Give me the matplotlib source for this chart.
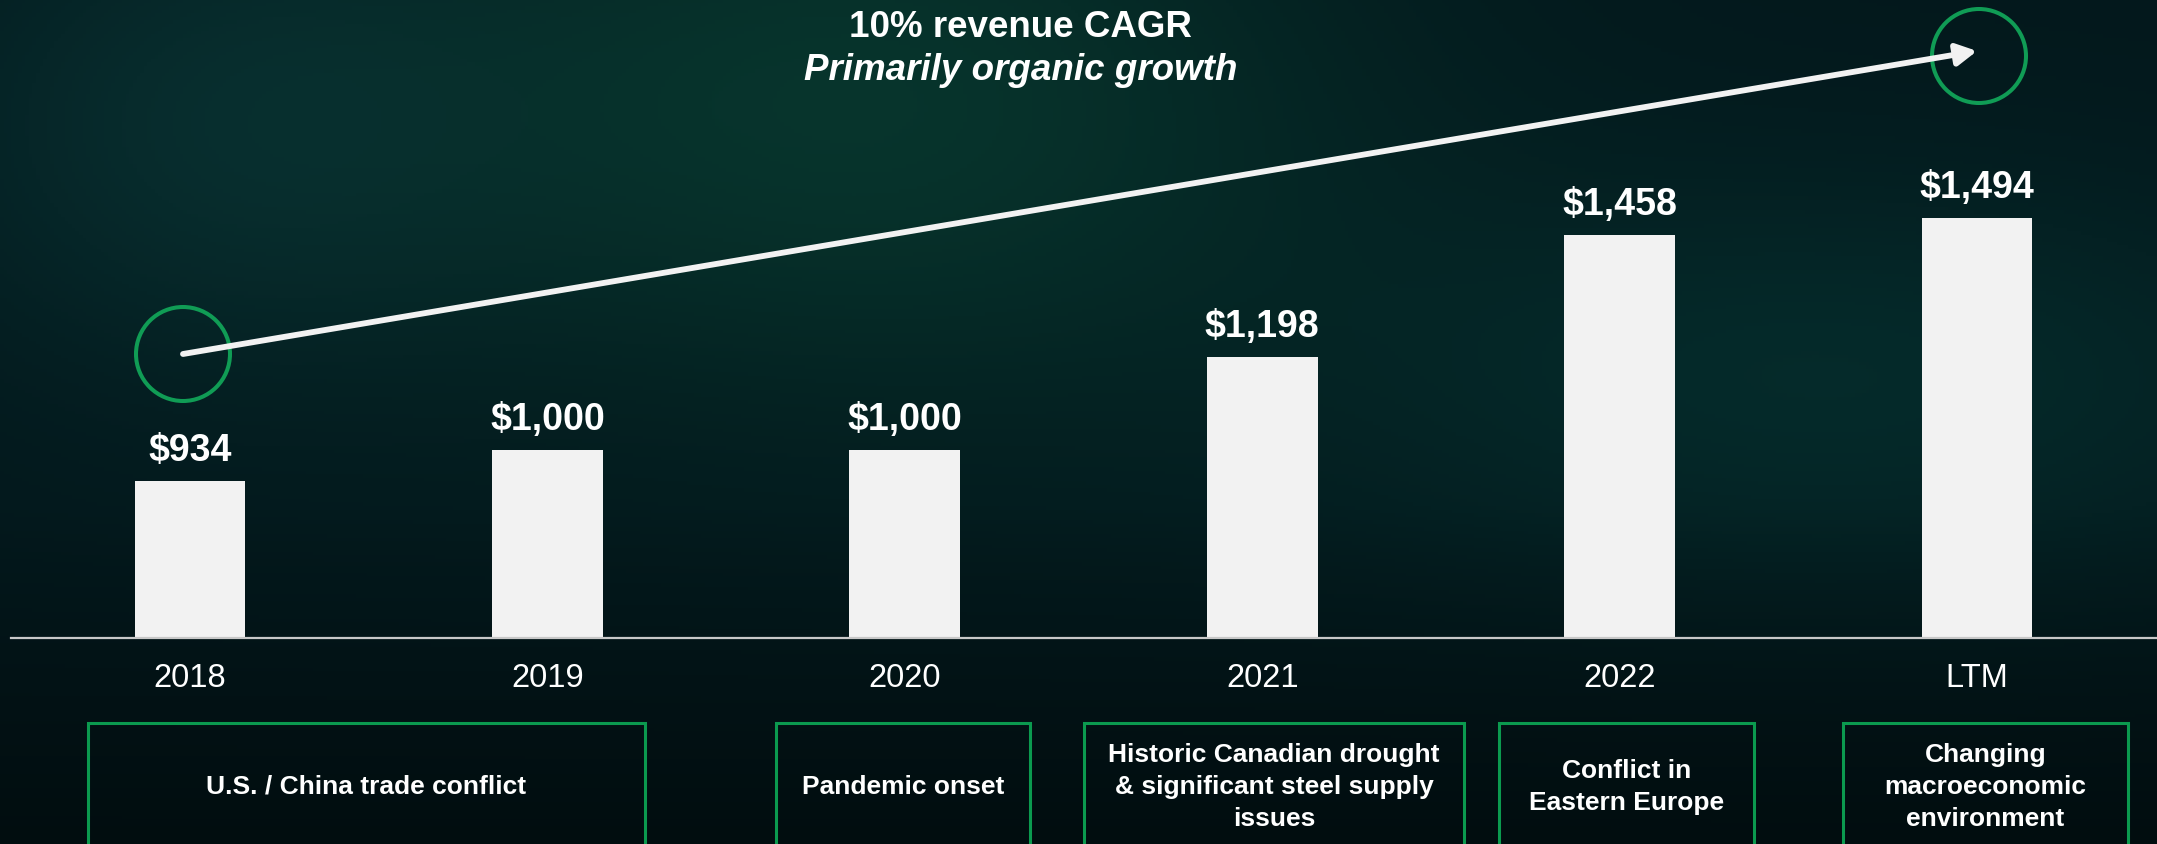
import numpy as np
import matplotlib
matplotlib.use('Agg')
import matplotlib.pyplot as plt
from matplotlib.patches import Rectangle, Ellipse, FancyArrowPatch

# ---------------- data ----------------
categories = ['2018', '2019', '2020', '2021', '2022', 'LTM']
revenue = [934, 1000, 1000, 1198, 1458, 1494]
value_labels = ['$934', '$1,000', '$1,000', '$1,198', '$1,458', '$1,494']
events = ['U.S. / China trade conflict',
          'Pandemic onset',
          'Historic Canadian drought\n& significant steel supply\nissues',
          'Conflict in\nEastern Europe',
          'Changing\nmacroeconomic\nenvironment']
title_line1 = '10% revenue CAGR'
title_line2 = 'Primarily organic growth'

# ---------------- figure ----------------
W, H, DPI = 2157, 845, 100
plt.rcParams['font.family'] = ['Liberation Sans', 'DejaVu Sans']
fig = plt.figure(figsize=(W / DPI, H / DPI), dpi=DPI)
fig.patch.set_facecolor('#03181b')


def fx(px):
    return px / W


def fy(py):
    return 1 - py / H


# background gradient (decorative)
bg = fig.add_axes([0, 0, 1, 1], zorder=-10)
yy, xx = np.mgrid[0:1:240j, 0:1:600j]
base = np.array([3, 24, 28]) / 255.0
img = np.ones(yy.shape + (3,)) * base
glow1 = np.exp(-((xx - 0.40) / 0.22) ** 2 - ((yy - 0.12) / 0.35) ** 2)
glow2 = np.exp(-((xx - 0.85) / 0.25) ** 2 - ((yy - 0.45) / 0.25) ** 2)
glow3 = np.exp(-((xx - 0.10) / 0.15) ** 2 - ((yy - 0.15) / 0.30) ** 2)
img += glow1[..., None] * np.array([4, 28, 16]) / 255.0
img += glow2[..., None] * np.array([2, 18, 14]) / 255.0
img += glow3[..., None] * np.array([4, 18, 16]) / 255.0
dark = 1 - 0.45 * np.clip((yy - 0.6) / 0.4, 0, 1)
img *= dark[..., None]
bg.imshow(np.clip(img, 0, 1), aspect='auto', extent=[0, 1, 0, 1], origin='upper')
bg.set_axis_off()

# ---------------- bar chart ----------------
axis_y_px = 639
ax = fig.add_axes([fx(11.3), fy(axis_y_px), fx(2155.7) - fx(11.3), axis_y_px / H])
ax.patch.set_alpha(0)
x = np.arange(len(categories))
ax.bar(x, revenue, width=0.31, color='#f2f2f2', zorder=2)
ax.set_xlim(-0.5, len(categories) - 0.5)
ax.set_ylim(600, 600 + axis_y_px / 0.4696)
for s in ['top', 'left', 'right']:
    ax.spines[s].set_visible(False)
ax.spines['bottom'].set_color('#c8c8c8')
ax.spines['bottom'].set_linewidth(1.6)
ax.spines['bottom'].set_zorder(3)
ax.set_xticks([])
ax.set_yticks([])

for i, (v, lab) in enumerate(zip(revenue, value_labels)):
    ax.annotate(lab, xy=(i, v), xytext=(0, 15), textcoords='offset points',
                ha='center', va='baseline', fontsize=27, fontweight='bold',
                color='white')
for i, cat in enumerate(categories):
    ax.annotate(cat, xy=(i, 0), xycoords=('data', 'axes fraction'),
                xytext=(0, -34.5), textcoords='offset points',
                ha='center', va='baseline', fontsize=23.5, color='white',
                annotation_clip=False)

# ---------------- title ----------------
fig.text(fx(1020), fy(37), title_line1, ha='center', va='baseline',
         fontsize=26.5, fontweight='bold', color='white')
fig.text(fx(1021), fy(80), title_line2, ha='center', va='baseline',
         fontsize=26.5, fontweight='bold', fontstyle='italic', color='white')

# ---------------- CAGR arrow & circles ----------------
green = '#109c55'
for cx, cy in [(183, 355), (1979, 57)]:
    fig.add_artist(Ellipse((fx(cx), fy(cy)), 94 / W, 94 / H,
                           transform=fig.transFigure, fill=False,
                           edgecolor=green, linewidth=2.9))
fig.add_artist(FancyArrowPatch((fx(183), fy(355)), (fx(1977), fy(52)),
                               transform=fig.transFigure,
                               arrowstyle='-|>,head_length=12,head_width=6.5',
                               mutation_scale=1, color='#f2f2f2',
                               linewidth=4.2, shrinkA=0, shrinkB=0))

# ---------------- event boxes ----------------
box_edges = [(88, 645), (776, 1030), (1084, 1464), (1499, 1754), (1843, 2128)]
box_top = 724
for (l, r), txt in zip(box_edges, events):
    fig.add_artist(Rectangle((fx(l), fy(860)), fx(r) - fx(l), (860 - box_top) / H,
                             transform=fig.transFigure, fill=False,
                             edgecolor='#0b9a4f', linewidth=2.2))
    fig.text(fx((l + r) / 2), fy(787), txt, ha='center', va='center',
             fontsize=19, fontweight='bold', color='white', linespacing=1.4)

fig.savefig('out.png', dpi=DPI, facecolor=fig.get_facecolor())
